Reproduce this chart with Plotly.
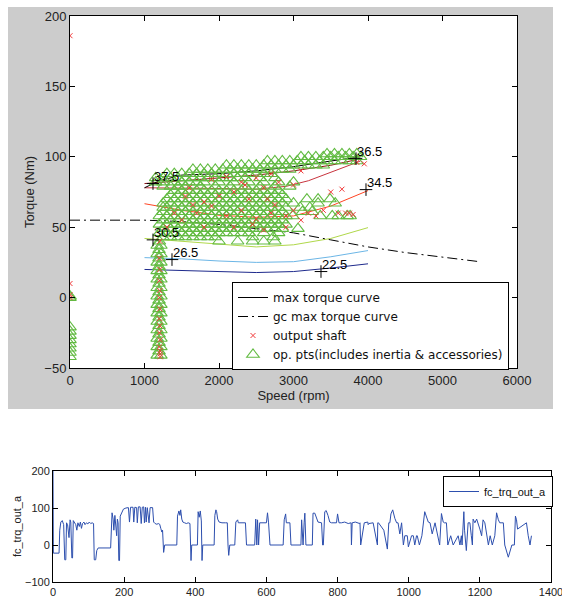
import plotly.graph_objects as go

# ---------------- top panel data ----------------
contour_speed = [1000, 1500, 2000, 2500, 3000, 3500, 4000]
c225 = [20, 19.5, 18.5, 17.8, 18.5, 21, 24]
c265 = [28.4, 27.5, 26, 25, 25.5, 29, 33.4]
c305 = [42, 40, 37.5, 36, 37.5, 42, 49.7]
c345 = [66.7, 62, 58.5, 57, 58, 65, 76]
c365_speed = [1000, 1500, 2000, 2500, 2900, 3200, 3500, 3800, 3900]
c365 = [78, 78, 77.5, 77, 79, 83, 89, 95, 97]
c375_speed = [1000, 1500, 2000, 2500, 3000, 3500, 3850]
c375 = [81, 83, 85, 87, 90, 94, 98]

label_text = ["37.5", "36.5", "34.5", "30.5", "26.5", "22.5"]
label_speed = [1114, 3839, 3973, 1114, 1369, 3369]
label_torque = [81, 98.7, 76.7, 41, 27, 18.5]

max_speed = [1000, 1200, 1500, 2000, 2500, 3000, 3500, 3900]
max_torque = [78, 83, 87, 88, 90, 93, 97, 100]

gc_speed = [0, 1000, 1500, 2000, 2500, 3000, 3500, 4000, 4500, 5000, 5500]
gc_torque = [55, 55, 54, 52, 49, 46, 41, 36, 32, 29, 25.5]

shaft_speed = [0, 0, 0, 0, 1210, 1210, 1200, 1210, 1200, 1205, 1200, 1205, 1200, 1205,
               1200, 1205, 1200, 1205, 1210, 1500, 1700, 1900, 2100, 2300, 2500, 2700,
               2900, 2400, 2200, 2000, 1800, 1600, 2600, 2800, 3000, 2500, 2300, 2100,
               1900, 2700, 3100, 2600, 2900, 3200, 3400, 3600, 3700, 3800, 3500, 3650,
               3850, 3950, 2650, 2450, 3100, 1400, 1300, 3300, 3000, 2200, 1800, 3750,
               2350, 1650, 2750, 1550]
shaft_torque = [186, 10, 2, 0, -40, -38, -35, -30, -25, -20, -15, -8, 0, 5,
                12, 20, 28, 40, -42, 55, 60, 65, 58, 62, 56, 60,
                58, 70, 75, 72, 68, 78, 78, 82, 80, 85, 82, 86,
                84, 88, 90, 48, 50, 60, 62, 60, 60, 59, 75, 77,
                96, 95, 70, 52, 55, 60, 50, 58, 62, 50, 50, 60,
                80, 66, 66, 72]

op_rows = [
    (102, [3450, 3550, 3650, 3750, 3850]),
    (100, [3100, 3200, 3300, 3400, 3500, 3600, 3700, 3800, 3900]),
    (97, [2650, 2750, 2850, 2950, 3050, 3150, 3250, 3350, 3450, 3550, 3650, 3750, 3850]),
    (94, [2100, 2200, 2300, 2400, 2500, 2600, 2700, 2800, 2900, 3000, 3100, 3200, 3300, 3400]),
    (91, [1650, 1750, 1850, 1950, 2050, 2150, 2250, 2350, 2450, 2550, 2650, 2750, 2850, 2950]),
    (88, [1300, 1400, 1500, 1600, 1700, 1800, 1900, 2000, 2100, 2200, 2300, 2400, 2500, 2600, 2700]),
    (85, [1150, 1250, 1350, 1450, 1550, 1650, 1750, 1850, 1950, 2050, 2150, 2250, 2350, 2550, 2750]),
    (82, [1150, 1250, 1400, 1500, 1600, 1700, 1800, 2000, 2200, 2400, 2600, 2800, 3000]),
    (79, [1250, 1350, 1450, 1550, 1750, 1950, 2150, 2350, 2550, 2750, 2950]),
    (76, [1400, 1500, 1600, 1700, 1800, 1900, 2000, 2100, 2200, 2300, 2400, 2500, 2600, 2700, 2800]),
    (73, [1350, 1450, 1550, 1650, 1750, 1850, 1950, 2050, 2150, 2250, 2350, 2450, 2550, 2650, 2750, 2850]),
    (70, [1300, 1400, 1500, 1600, 1700, 1800, 1900, 2000, 2100, 2200, 2300, 2400, 2500, 2600, 2700, 2800, 2900, 3180, 3330, 3490]),
    (67, [1250, 1350, 1450, 1550, 1650, 1750, 1850, 1950, 2050, 2150, 2250, 2350, 2450, 2550, 2650, 2750, 2850, 3000, 3330, 3560]),
    (64, [1250, 1300, 1400, 1500, 1600, 1700, 1800, 1900, 2000, 2100, 2200, 2300, 2400, 2500, 2600, 2700, 2800, 2900, 3090, 3220]),
    (61, [1250, 1350, 1450, 1550, 1650, 1750, 1850, 1950, 2050, 2150, 2250, 2350, 2450, 2550, 2650, 2750, 2850, 3120, 3250]),
    (58, [1200, 1300, 1400, 1500, 1600, 1700, 1800, 1900, 2000, 2100, 2200, 2300, 2400, 2500, 2600, 2700, 2800, 2900, 2990, 3360, 3520, 3600, 3720, 3760]),
    (55, [1250, 1350, 1450, 1550, 1650, 1750, 1850, 1950, 2050, 2150, 2250, 2350, 2450, 2550, 2650, 2750, 2850]),
    (52, [1200, 1300, 1400, 1500, 1600, 1700, 1800, 1900, 2000, 2100, 2200, 2300, 2400, 2500, 2600, 2700, 2800, 2900]),
    (49, [1250, 1350, 1450, 1550, 1650, 1750, 1850, 1950, 2050, 2150, 2250, 2350, 2450, 2550, 2650, 2750, 2850, 3060]),
    (46, [1200, 1300, 1400, 1500, 1600, 1700, 1800, 1900, 2000, 2100, 2200, 2300, 2400, 2600, 2800]),
    (43, [1250, 1350, 1450, 1550, 1650, 1750, 1850, 1950, 2450, 2730]),
    (40, [1200, 2000, 2250, 2450, 2600, 2750]),
    (37, [1170, 1220]), (34, [1195]), (31, [1170, 1220]), (28, [1195]), (25, [1170, 1220]),
    (22, [1195]), (19, [1170, 1220]), (16, [1195]), (13, [1170, 1220]), (10, [1195]),
    (7, [1170, 1220]), (4, [1195]), (1, [1170, 1220]), (-2, [1195]), (-5, [1170, 1220]),
    (-8, [1195]), (-11, [1170, 1220]), (-14, [1195]), (-17, [1170, 1220]), (-20, [1195]),
    (-23, [1170, 1220]), (-26, [1195]), (-29, [1170, 1220]), (-32, [1195]), (-35, [1170, 1220]),
    (-38, [1195]), (-41, [1170, 1220]),
]
zero_speed_torques = [-42, -39, -36, -33, -30, -27, -24, -21, 0, 1]

op_speed, op_torque = [], []
for t, row in op_rows:
    for s in row:
        op_speed.append(s); op_torque.append(t)
for t in zero_speed_torques:
    op_speed.append(0); op_torque.append(t)

# ---------------- bottom panel data ----------------
time_s = [0, 1, 17, 19, 22, 26, 30, 33, 36, 38, 41, 43, 45, 48, 50, 53, 55, 57, 60, 64, 67, 70, 74, 77,
          80, 83, 87, 90, 94, 98, 102, 106, 110, 114, 116, 120, 123, 127, 162, 164, 166, 169, 171, 174,
          177, 179, 181, 183, 185, 187, 189, 194, 198, 205, 212, 215, 218, 225, 227, 230, 235, 237, 240,
          245, 248, 251, 255, 257, 260, 262, 265, 270, 273, 280, 283, 287, 292, 296, 300, 303, 306, 308,
          311, 314, 348, 350, 354, 357, 359, 362, 365, 370, 375, 380, 385, 388, 390, 406, 408, 411, 414,
          417, 419, 421, 453, 455, 458, 460, 463, 467, 475, 485, 490, 492, 494, 497, 511, 514, 519, 521,
          530, 541, 544, 567, 570, 573, 575, 578, 581, 590, 600, 603, 606, 610, 647, 650, 654, 656, 666,
          669, 697, 699, 703, 706, 708, 711, 714, 729, 731, 736, 745, 755, 758, 760, 764, 768, 773, 778,
          783, 788, 797, 800, 804, 811, 820, 830, 838, 839, 841, 850, 862, 863, 865, 875, 885, 886, 888,
          900, 912, 913, 915, 930, 940, 944, 947, 950, 955, 961, 966, 970, 975, 980, 985, 989, 993, 996,
          999, 1008, 1013, 1017, 1022, 1024, 1030, 1035, 1037, 1045, 1050, 1055, 1060, 1066, 1074, 1078,
          1083, 1087, 1092, 1097, 1100, 1106, 1110, 1118, 1125, 1139, 1144, 1148, 1150, 1155, 1157, 1162,
          1167, 1172, 1176, 1179, 1181, 1186, 1191, 1195, 1200, 1205, 1209, 1214, 1219, 1224, 1229, 1235,
          1242, 1247, 1252, 1256, 1262, 1266, 1270, 1280, 1290, 1297, 1300, 1303, 1306, 1331, 1336, 1341,
          1345, 1350, 1355, 1360, 1364]
trq_out = [200, -22, -22, 40, 62, 66, 55, -40, -40, 60, 55, 25, 20, 68, 62, -35, -35, 66, 60, 55, 40, 60, 50, 62,
           45, 58, 62, 55, 60, 57, 62, 58, 60, 58, -40, -40, -15, -8, -8, 60, 87, 70, 40, 80,
           35, 25, 70, 60, -42, -42, 78, 90, 97, 100, 101, 62, 102, 102, 62, 102, 101, 60, 103,
           103, 58, 102, 103, 60, 102, 62, 101, 60, 101, 101, 62, 58, 56, 58, 56, 45, 35, 40,
           -20, 0, 0, 78, 92, 80, 95, 70, 62, 60, 58, 60, 58, -42, 0, 0, 90, 75, 92,
           65, -42, 0, 0, 80, 95, 90, 70, 62, 60, 60, 60, 0, -28, 0, 0, 62, 68, 60,
           60, 60, 0, 0, 70, 0, 68, 0, 60, 60, 60, 87, 60, 0, 0, 68, 84, 60, 60,
           0, 0, 68, 0, 60, 86, 0, 0, 0, 86, 86, 62, 60, 0, 0, 90, 93, 80, 62,
           60, 60, 60, 84, 60, 60, 62, 58, 60, 0, 60, 62, 58, 60, 0, 60, 62, 55,
           58, 60, 0, 60, 60, 40, -11, 60, 60, 84, 95, 72, 60, 60, 30, 60, 0, 25,
           25, 25, -5, 25, 25, 0, 25, 25, 0, 25, 25, 90, 78, 62, 60, 30,
           60, 43, 25, 0, 85, 62, 60, 60, 0, 25, 0, 25, 0, 25,
           0, 90, 40, -15, 60, 60, 25, 0, 70, 60, 70, 60, 43, 25, 68, 60,
           25, 0, 25, 0, 25, 87, 68, 60, 60, 60, 0, -33, 0, 0, 78, 68,
           43, 60, 25, 0, 25]

# ---------------- figure ----------------
W, H = 562, 598
def px(x):
    return x / W
def py(y):
    return 1 - y / H

fig = go.Figure()
font_main = "Liberation Sans, Arial, sans-serif"

contours = [
    (contour_speed, c225, "#1e2a8c"),
    (contour_speed, c265, "#6cb6e6"),
    (contour_speed, c305, "#b0d84a"),
    (contour_speed, c345, "#ff4422"),
    (c365_speed, c365, "#c8343e"),
    (c375_speed, c375, "#8c1010"),
]
for xs, ys, col in contours:
    fig.add_trace(go.Scatter(x=xs, y=ys, mode="lines", line=dict(color=col, width=1),
                             showlegend=False, hoverinfo="skip", xaxis="x", yaxis="y"))

fig.add_trace(go.Scatter(x=max_speed, y=max_torque, mode="lines", name="max torque curve",
                         line=dict(color="black", width=1), legendrank=1, xaxis="x", yaxis="y"))
fig.add_trace(go.Scatter(x=gc_speed, y=gc_torque, mode="lines", name="gc max torque curve",
                         line=dict(color="black", width=1, dash="10px,4px,2px,4px"), legendrank=2,
                         xaxis="x", yaxis="y"))
fig.add_trace(go.Scatter(x=op_speed, y=op_torque, mode="markers",
                         name="op. pts(includes inertia & accessories)",
                         marker=dict(symbol="triangle-up-open", size=11, color="#62bb42", line=dict(width=1.1)),
                         legendrank=4, xaxis="x", yaxis="y"))
fig.add_trace(go.Scatter(x=shaft_speed, y=shaft_torque, mode="markers", name="output shaft",
                         marker=dict(symbol="x-thin", size=5, line=dict(width=1, color="#f03a3a"), color="#f03a3a"),
                         legendrank=3, xaxis="x", yaxis="y"))
fig.add_trace(go.Scatter(x=label_speed, y=label_torque, mode="markers",
                         marker=dict(symbol="cross-thin", size=9, line=dict(width=1, color="black")),
                         showlegend=False, hoverinfo="skip", xaxis="x", yaxis="y"))

fig.add_trace(go.Scatter(x=time_s, y=trq_out, mode="lines", name="fc_trq_out_a",
                         line=dict(color="#2d4fae", width=1), legend="legend2", xaxis="x2", yaxis="y2"))

annotations = []
for txt, sx, ty in zip(label_text, label_speed, label_torque):
    annotations.append(dict(x=sx, y=ty, xref="x", yref="y", text=txt, showarrow=False,
                            xanchor="left", yanchor="bottom", xshift=-1, yshift=-2,
                            font=dict(family=font_main, size=13, color="black")))

axis_common = dict(showgrid=False, zeroline=False, ticks="inside", ticklen=5, tickwidth=1,
                   tickcolor="black", showline=True, linecolor="black", linewidth=1, mirror="ticks",
                   automargin=False, ticklabeloverflow="allow")

fig.update_layout(
    width=W, height=H, margin=dict(l=0, r=0, t=0, b=0), template="none",
    paper_bgcolor="white", plot_bgcolor="white",
    font=dict(family=font_main, color="#222222"),
    annotations=annotations,
    xaxis=dict(axis_common, domain=[px(70), px(517)], range=[0, 6000], tickvals=[0, 1000, 2000, 3000, 4000, 5000, 6000],
               tickfont=dict(size=13), anchor="y",
               title=dict(text="Speed (rpm)", font=dict(size=13), standoff=3)),
    yaxis=dict(axis_common, domain=[py(368), py(16)], range=[-50, 200], tickvals=[-50, 0, 50, 100, 150, 200],
               tickfont=dict(size=13), anchor="x",
               title=dict(text="Torque (Nm)", font=dict(size=13), standoff=6)),
    xaxis2=dict(axis_common, domain=[px(53), px(551)], range=[0, 1400],
                tickvals=[0, 200, 400, 600, 800, 1000, 1200, 1400], tickfont=dict(size=11), anchor="y2"),
    yaxis2=dict(axis_common, domain=[py(582), py(471)], range=[-100, 200], tickvals=[-100, 0, 100, 200],
                tickfont=dict(size=11), anchor="x2",
                title=dict(text="fc_trq_out_a", font=dict(size=11))),
    legend=dict(x=px(232), y=py(282), xanchor="left", yanchor="top", bgcolor="white",
                bordercolor="black", borderwidth=1,
                font=dict(family="DejaVu Sans, sans-serif", size=12, color="#111111"),
                tracegroupgap=0, itemwidth=30),
    legend2=dict(x=px(443), y=py(476), xanchor="left", yanchor="top", bgcolor="white",
                 bordercolor="black", borderwidth=1, font=dict(size=11, color="#111111"), itemwidth=30),
    shapes=[
        dict(type="rect", xref="paper", yref="paper", x0=px(8), x1=px(553), y0=py(409), y1=py(7),
             fillcolor="#cccccc", line=dict(width=0), layer="below"),
        dict(type="rect", xref="paper", yref="paper", x0=px(70), x1=px(517), y0=py(368), y1=py(16),
             fillcolor="white", line=dict(width=0), layer="below"),
    ],
)

fig.write_html("out.html")
